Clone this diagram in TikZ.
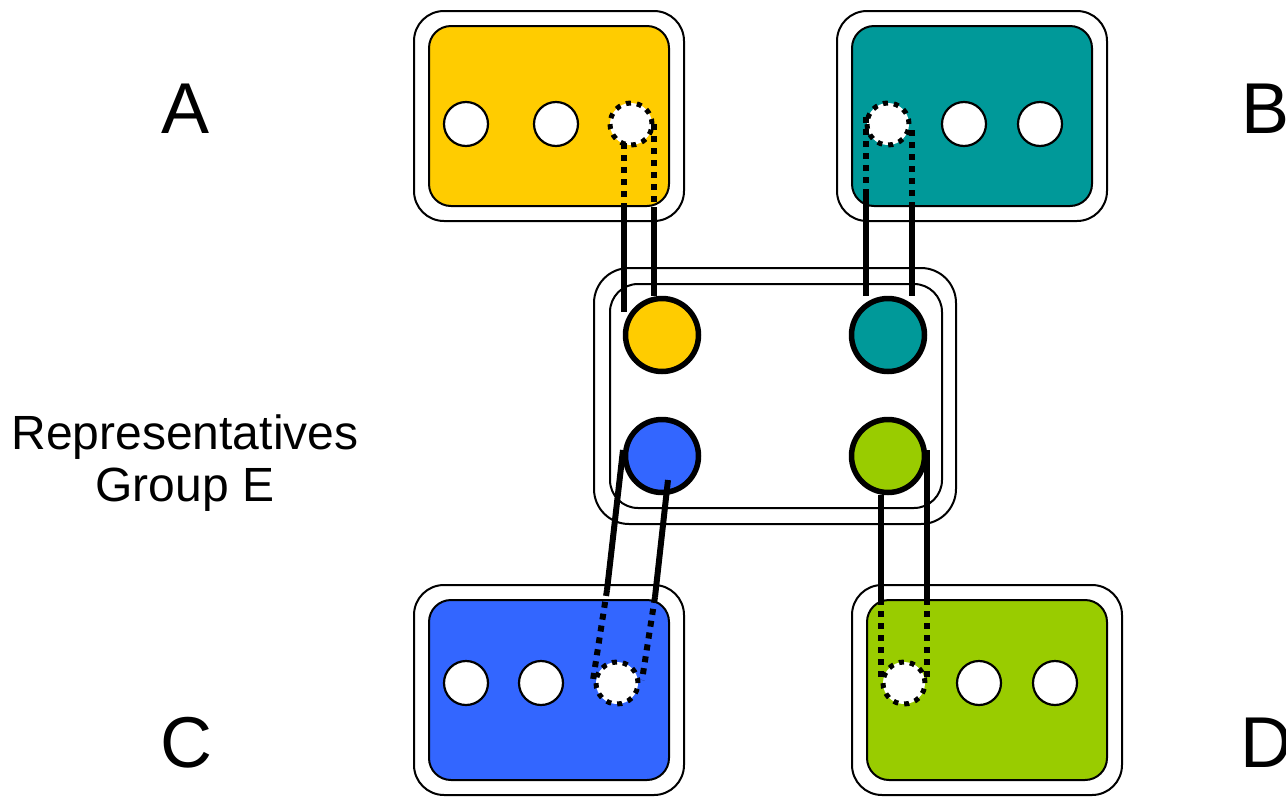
\documentclass[tikz,border=0pt]{standalone}
\usepackage{fontspec}
\setmainfont{Liberation Sans}
\usepackage{tikz}
\usetikzlibrary{calc}
\definecolor{teamyellow}{HTML}{FFCC00}
\definecolor{teamteal}{HTML}{009999}
\definecolor{teamblue}{HTML}{3366FF}
\definecolor{teamgreen}{HTML}{99CC00}

\begin{document}
\begin{tikzpicture}[x=1pt,y=-1pt,
  shell/.style={draw,line width=2pt,fill=white,rounded corners=30pt,minimum width=270pt,minimum height=210pt,inner sep=0},
  team/.style={draw,line width=2pt,rounded corners=22pt,minimum width=240pt,minimum height=180pt,inner sep=0},
  seat/.style={circle,draw,line width=2.2pt,fill=white,minimum size=44pt,inner sep=0},
  rep/.style={circle,draw,line width=5pt,fill=white,dash pattern=on 5pt off 6pt,minimum size=42pt,inner sep=0},
  hub/.style={circle,draw,line width=5.5pt,minimum size=73pt,inner sep=0},
  link/.style={line width=6pt},
  dotlink/.style={line width=6pt,dash pattern=on 6pt off 6pt},
  letter/.style={font=\fontsize{72}{86}\selectfont,inner sep=0},
  grouplabel/.style={font=\fontsize{48}{52}\selectfont,align=center,inner sep=0}]
\useasboundingbox (0,0) rectangle (1286,796);

% team A
\node[shell] (shellA) at (549,116) {};
\node[team,fill=teamyellow] (teamA) at (549,116) {};
\node[seat] (a1) at (466,124) {};
\node[seat] (a2) at (556,124) {};
\node[rep] (a3) at (631,124) {};

% team B
\node[shell] (shellB) at (972,116) {};
\node[team,fill=teamteal] (teamB) at (972,116) {};
\node[rep] (b1) at (888,124) {};
\node[seat] (b2) at (964,124) {};
\node[seat] (b3) at (1040,124) {};

% team C
\node[shell] (shellC) at (549,690) {};
\node[team,fill=teamblue] (teamC) at (549,690) {};
\node[seat] (c1) at (466,683) {};
\node[seat] (c2) at (541,683) {};
\node[rep] (c3) at (617,683) {};

% team D
\node[shell] (shellD) at (987,690) {};
\node[team,fill=teamgreen] (teamD) at (987,690) {};
\node[rep] (d1) at (904,683) {};
\node[seat] (d2) at (979,683) {};
\node[seat] (d3) at (1055,683) {};

% group E
\node[draw,line width=2pt,rounded corners=35pt,minimum width=362pt,minimum height=256pt] (shellE) at (775,396) {};
\node[draw,line width=2pt,rounded corners=28pt,minimum width=332pt,minimum height=224pt] (teamE) at (776,396) {};
\node[hub,fill=teamyellow] (ya) at (662,335) {};
\node[hub,fill=teamteal] (tb) at (888,335) {};
\node[hub,fill=teamblue] (bc) at (662,456) {};
\node[hub,fill=teamgreen] (gc) at (888,456) {};

% A to E
\coordinate (aL) at ($(a3)+(-7,19)$);
\coordinate (aR) at ($(a3)+(23,0)$);
\draw[dotlink] (aL) -- (aL |- teamA.south);
\draw[link] (aL |- teamA.south) -- ($(ya)+(-38,-23)$);
\draw[dotlink] (aR) -- (aR |- teamA.south);
\draw[link] (aR |- teamA.south) -- (aR |- ya.north);

% B to E
\coordinate (bL) at ($(b1)+(-22,-7)$);
\coordinate (bR) at ($(b1)+(24,6)$);
\coordinate (bLm) at ($(b1)+(-22,70)$);
\coordinate (bRm) at ($(b1)+(24,78)$);
\draw[dotlink] (bL) -- (bLm);
\draw[link] (bLm) -- (bL |- tb.north);
\draw[dotlink] (bR) -- (bRm);
\draw[link] (bRm) -- (bR |- tb.north);

% C to E
\coordinate (cL) at ($(bc)+(-39,-6)$);
\coordinate (cLm) at ($(c3)+(-10,-93)$);
\coordinate (cR) at ($(bc)+(6,24)$);
\coordinate (cRm) at ($(c3)+(38,-86)$);
\draw[link] (cL) -- (cLm);
\draw[dotlink] (cLm) -- ($(c3)+(-24,-3)$);
\draw[link] (cR) -- (cRm);
\draw[dotlink] (cRm) -- ($(c3)+(25,-3)$);

% D to E
\coordinate (dL) at ($(gc)+(-7,39)$);
\coordinate (dR) at ($(gc)+(39,-6)$);
\draw[link] (dL) -- (dL |- teamD.north);
\draw[dotlink] (dL |- teamD.north) -- ($(dL |- d1)+(0,-3)$);
\draw[link] (dR) -- (dR |- teamD.north);
\draw[dotlink] (dR |- teamD.north) -- ($(dR |- d1)+(0,-3)$);

% labels
\node[letter] (labA) at (186,109) {A};
\node[letter,anchor=west] (labB) at (1241,109) {B};
\node[letter] (labC) at (186,743) {C};
\node[letter,anchor=west] (labD) at (1240,743) {D};
\node[grouplabel] (labE) at (185,463) {Representatives\\Group E};
\end{tikzpicture}
\end{document}
